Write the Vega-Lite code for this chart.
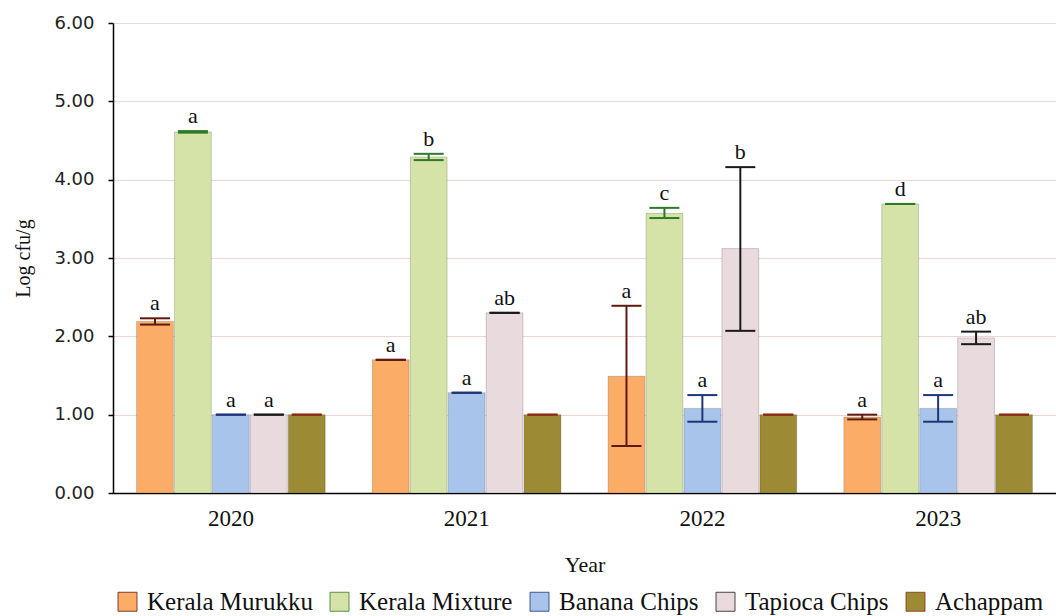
{
  "$schema": "https://vega.github.io/schema/vega-lite/v6.json",
  "width": 943,
  "height": 470,
  "autosize": {"type": "none"},
  "padding": {"left": 113, "top": 23, "right": 0, "bottom": 123},
  "background": "white",
  "data": {"values": [
    {"year": "2020", "product": "Kerala Murukku", "mean": 2.19, "lo": 2.15, "hi": 2.23, "label": "a"},
    {"year": "2020", "product": "Kerala Mixture", "mean": 4.61, "lo": 4.60, "hi": 4.62, "label": "a"},
    {"year": "2020", "product": "Banana Chips", "mean": 1.0, "lo": 1.0, "hi": 1.0, "label": "a"},
    {"year": "2020", "product": "Tapioca Chips", "mean": 1.0, "lo": 1.0, "hi": 1.0, "label": "a"},
    {"year": "2020", "product": "Achappam", "mean": 1.0, "lo": 1.0, "hi": 1.0, "label": ""},
    {"year": "2021", "product": "Kerala Murukku", "mean": 1.70, "lo": 1.70, "hi": 1.70, "label": "a"},
    {"year": "2021", "product": "Kerala Mixture", "mean": 4.29, "lo": 4.25, "hi": 4.33, "label": "b"},
    {"year": "2021", "product": "Banana Chips", "mean": 1.28, "lo": 1.28, "hi": 1.28, "label": "a"},
    {"year": "2021", "product": "Tapioca Chips", "mean": 2.30, "lo": 2.30, "hi": 2.30, "label": "ab"},
    {"year": "2021", "product": "Achappam", "mean": 1.0, "lo": 1.0, "hi": 1.0, "label": ""},
    {"year": "2022", "product": "Kerala Murukku", "mean": 1.49, "lo": 0.60, "hi": 2.39, "label": "a"},
    {"year": "2022", "product": "Kerala Mixture", "mean": 3.57, "lo": 3.51, "hi": 3.64, "label": "c"},
    {"year": "2022", "product": "Banana Chips", "mean": 1.08, "lo": 0.91, "hi": 1.25, "label": "a"},
    {"year": "2022", "product": "Tapioca Chips", "mean": 3.12, "lo": 2.07, "hi": 4.16, "label": "b"},
    {"year": "2022", "product": "Achappam", "mean": 1.0, "lo": 1.0, "hi": 1.0, "label": ""},
    {"year": "2023", "product": "Kerala Murukku", "mean": 0.97, "lo": 0.94, "hi": 1.00, "label": "a"},
    {"year": "2023", "product": "Kerala Mixture", "mean": 3.69, "lo": 3.69, "hi": 3.69, "label": "d"},
    {"year": "2023", "product": "Banana Chips", "mean": 1.08, "lo": 0.91, "hi": 1.25, "label": "a"},
    {"year": "2023", "product": "Tapioca Chips", "mean": 1.98, "lo": 1.90, "hi": 2.06, "label": "ab"},
    {"year": "2023", "product": "Achappam", "mean": 1.0, "lo": 1.0, "hi": 1.0, "label": ""}
  ]},
  "encoding": {
    "x": {
      "field": "year", "type": "nominal",
      "scale": {"paddingInner": 0.2, "paddingOuter": 0.1},
      "axis": {
        "title": "Year", "labelAngle": 0, "ticks": false, "domainColor": "#000", "domainWidth": 1.5,
        "labelFont": "Liberation Serif", "labelFontSize": 23, "labelColor": "#111", "labelPadding": 14,
        "titleFont": "Liberation Serif", "titleFontSize": 22, "titleFontWeight": "normal", "titleColor": "#111", "titlePadding": 24
      }
    },
    "xOffset": {
      "field": "product", "type": "nominal",
      "sort": ["Kerala Murukku", "Kerala Mixture", "Banana Chips", "Tapioca Chips", "Achappam"],
      "scale": {"paddingInner": 0.03, "paddingOuter": 0}
    }
  },
  "layer": [
    {
      "mark": {"type": "bar", "stroke": "#000", "strokeWidth": 0.8, "strokeOpacity": 0.22},
      "encoding": {
        "y": {
          "field": "mean", "type": "quantitative",
          "scale": {"domain": [0, 6], "nice": false},
          "axis": {
            "title": "Log cfu/g", "format": ".2f", "values": [0, 1, 2, 3, 4, 5, 6],
            "grid": true, "gridColor": "#ecd6d6", "gridWidth": 1,
            "gridOpacity": {"condition": {"test": "datum.value >= 6 || datum.value <= 0", "value": 0}, "value": 1},
            "domainColor": "#000", "domainWidth": 1.5, "tickColor": "#000", "tickSize": 5, "tickWidth": 1.5,
            "labelFont": "DejaVu Sans", "labelFontSize": 18, "labelColor": "#222", "labelPadding": 14,
            "titleFont": "Liberation Serif", "titleFontSize": 20, "titleFontWeight": "normal", "titleColor": "#111", "titlePadding": 20
          }
        },
        "color": {
          "field": "product", "type": "nominal",
          "sort": ["Kerala Murukku", "Kerala Mixture", "Banana Chips", "Tapioca Chips", "Achappam"],
          "scale": {
            "domain": ["Kerala Murukku", "Kerala Mixture", "Banana Chips", "Tapioca Chips", "Achappam"],
            "range": ["#FBAD68", "#D5E3A8", "#A9C4EA", "#E9DADE", "#9C8A34"]
          },
          "legend": {
            "title": null, "orient": "none", "legendX": 2, "legendY": 566, "direction": "horizontal",
            "symbolType": "square", "symbolSize": 361, "symbolStrokeColor": "#999", "symbolStrokeWidth": 0.8,
            "labelFont": "Liberation Serif", "labelFontSize": 25, "labelColor": "#111",
            "columnPadding": 14, "labelOffset": 7, "labelLimit": 400
          }
        }
      }
    },
    {
      "mark": {"type": "rule", "strokeWidth": 2},
      "encoding": {
        "y": {"field": "lo", "type": "quantitative"},
        "y2": {"field": "hi"},
        "stroke": {
          "field": "product", "type": "nominal",
          "scale": {
            "domain": ["Kerala Murukku", "Kerala Mixture", "Banana Chips", "Tapioca Chips", "Achappam"],
            "range": ["#5e1a10", "#2f7a2a", "#1e3678", "#1a1a1a", "#8a2c12"]
          },
          "legend": null
        }
      }
    },
    {
      "mark": {"type": "tick", "orient": "horizontal", "size": 30, "thickness": 2, "opacity": 1},
      "encoding": {
        "y": {"field": "lo", "type": "quantitative"},
        "fill": {
          "field": "product", "type": "nominal",
          "scale": {
            "domain": ["Kerala Murukku", "Kerala Mixture", "Banana Chips", "Tapioca Chips", "Achappam"],
            "range": ["#5e1a10", "#2f7a2a", "#1e3678", "#1a1a1a", "#8a2c12"]
          },
          "legend": null
        }
      }
    },
    {
      "mark": {"type": "tick", "orient": "horizontal", "size": 30, "thickness": 2, "opacity": 1},
      "encoding": {
        "y": {"field": "hi", "type": "quantitative"},
        "fill": {"field": "product", "type": "nominal", "legend": null}
      }
    },
    {
      "mark": {"type": "text", "baseline": "alphabetic", "dy": -8, "font": "Liberation Serif", "fontSize": 22, "color": "#111"},
      "encoding": {
        "y": {"field": "hi", "type": "quantitative"},
        "text": {"field": "label"}
      }
    }
  ]
}
